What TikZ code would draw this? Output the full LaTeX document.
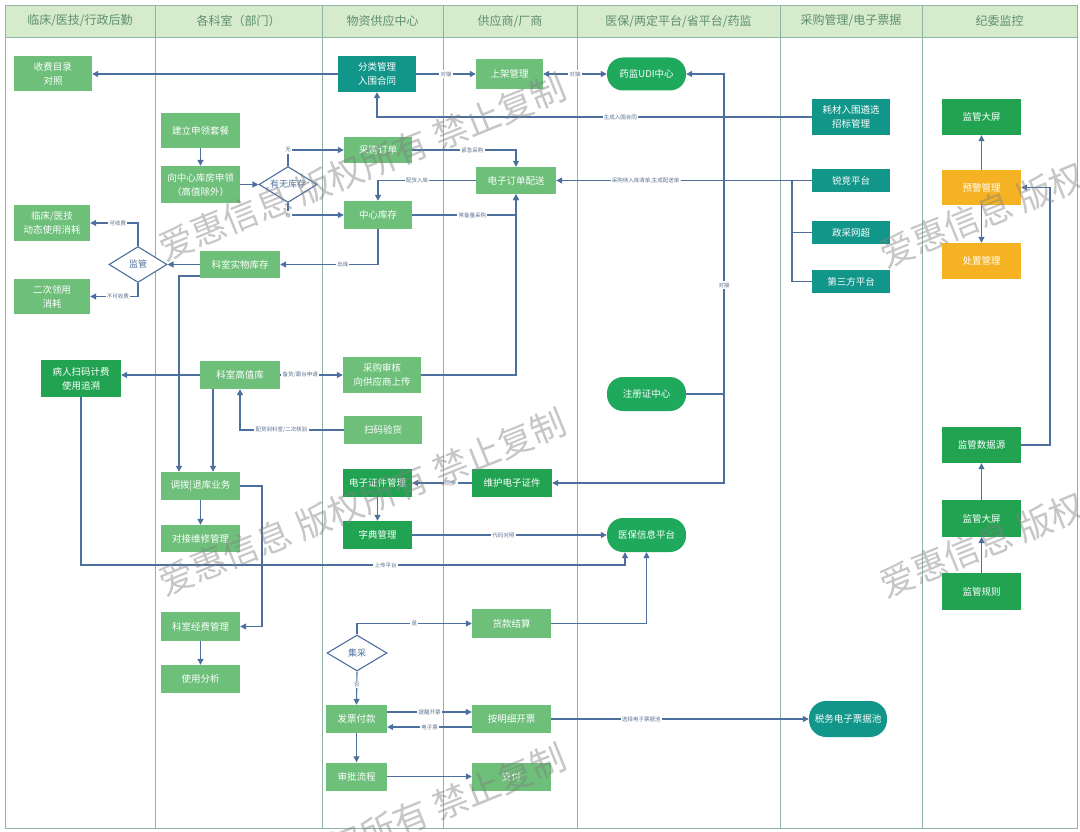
\documentclass[tikz,border=0pt]{standalone}
\usepackage{fontspec}
\setmainfont{Noto Sans CJK SC}
\usetikzlibrary{arrows.meta,shapes.geometric}
\definecolor{lg}{HTML}{6DBF7A}
\definecolor{dg}{HTML}{22A352}
\definecolor{sg}{HTML}{1FA95D}
\definecolor{tl}{HTML}{12968A}
\definecolor{org}{HTML}{F5B324}
\definecolor{arrc}{HTML}{4D6F9E}
\definecolor{lblc}{HTML}{5A7090}
\definecolor{hdrfill}{HTML}{D6EBCB}
\definecolor{hdrtext}{HTML}{5E8F6E}
\definecolor{lanec}{HTML}{8FB3A8}
\begin{document}
\begin{tikzpicture}[x=1pt,y=-1pt,
  bx/.style={rectangle,fill=lg,text=white,align=center,inner sep=0pt,
    font=\fontsize{9.5}{14}\selectfont,minimum width=79pt,minimum height=28pt},
  dgb/.style={bx,fill=dg},
  tlb/.style={bx,fill=tl},
  orb/.style={bx,fill=org},
  stad/.style={bx,fill=sg,rounded corners=16pt},
  dia/.style={diamond,draw=arrc,line width=1.1pt,fill=white,text=arrc,inner sep=0pt,
    aspect=1.6,font=\fontsize{9}{10}\selectfont},
  arr/.style={draw=arrc,line width=1.1pt,-{Triangle[length=6pt,width=6pt]}},
  arrb/.style={draw=arrc,line width=1.1pt,{Triangle[length=6pt,width=6pt]}-{Triangle[length=6pt,width=6pt]}},
  ln/.style={draw=arrc,line width=1.1pt},
  lbl/.style={fill=white,text=lblc,inner sep=1.2pt,font=\fontsize{5.5}{6}\selectfont},
  hdr/.style={text=hdrtext,font=\fontsize{12}{14}\selectfont},
  lane/.style={draw=lanec,line width=0.8pt},
  wm/.style={text=gray,text opacity=0.45,rotate=22,font=\fontsize{35}{40}\selectfont}
]
\useasboundingbox (0,0) rectangle (1080,832);
% lanes
\fill[hdrfill] (5,5) rectangle (1077,37);
\draw[lane] (5,5) rectangle (1077,828);
\draw[lane] (5,37) -- (1077,37);
\foreach \xx in {155,322,443,577,780,922} {\draw[lane] (\xx,5) -- (\xx,828);}
\node[hdr] (h1) at (80,21) {临床/医技/行政后勤};
\node[hdr] (h2) at (238.5,21) {各科室（部门）};
\node[hdr] (h3) at (382.5,21) {物资供应中心};
\node[hdr] (h4) at (510,21) {供应商/厂商};
\node[hdr] (h5) at (678.5,21) {医保/两定平台/省平台/药监};
\node[hdr] (h6) at (851,21) {采购管理/电子票据};
\node[hdr] (h7) at (999.5,21) {纪委监控};

% nodes
\node[bx,minimum width=78pt,minimum height=35pt] (shoufei) at (53,74) {收费目录\\对照};
\node[tlb,minimum width=78pt,minimum height=36pt] (fenlei) at (377,74) {分类管理\\入围合同};
\node[bx,minimum width=67pt,minimum height=30pt] (shangjia) at (509.5,74) {上架管理};
\node[stad,minimum height=33pt] (udi) at (646.5,74) {药监UDI中心};
\node[tlb,minimum width=78pt,minimum height=36pt] (haocai) at (851,117) {耗材入围遴选\\招标管理};
\node[dgb,minimum height=36pt] (jgdp1) at (981.5,117) {监管大屏};
\node[bx,minimum height=35pt] (jianli) at (200.5,130.5) {建立申领套餐};
\node[bx,minimum width=68pt,minimum height=26pt] (caigou) at (378,150) {采购订单};
\node[bx,minimum height=37pt] (xiang) at (200.5,184.5) {向中心库房申领\\（高值除外）};
\node[dia,minimum width=58pt,minimum height=36pt] (youwu) at (288,184.5) {有无库存};
\node[bx,minimum width=80pt,minimum height=27pt] (dingdan) at (516,180.5) {电子订单配送};
\node[tlb,minimum width=78pt,minimum height=23pt] (ruijing) at (851,180.5) {锐竞平台};
\node[orb,minimum height=35pt] (yujing) at (981.5,187.5) {预警管理};
\node[bx,minimum width=68pt,minimum height=28pt] (zhongxin) at (378,215) {中心库存};
\node[bx,minimum width=76pt,minimum height=36pt] (linchuang) at (52,223) {临床/医技\\动态使用消耗};
\node[tlb,minimum width=78pt,minimum height=23pt] (zhengcai) at (851,232.5) {政采网超};
\node[orb,minimum height=36pt] (chuzhi) at (981.5,261) {处置管理};
\node[dia,minimum width=58pt,minimum height=36pt] (jianguan) at (138,264.5) {监管};
\node[bx,minimum width=80pt,minimum height=27pt] (shiwu) at (240,264.5) {科室实物库存};
\node[tlb,minimum width=78pt,minimum height=23pt] (disanfang) at (851,281.5) {第三方平台};
\node[bx,minimum width=76pt,minimum height=35pt] (erci) at (52,296.5) {二次领用\\消耗};
\node[dgb,minimum width=80pt,minimum height=37pt] (bingren) at (81,378.5) {病人扫码计费\\使用追溯};
\node[bx,minimum width=80pt,minimum height=28pt] (gaozhi) at (240,375) {科室高值库};
\node[bx,minimum width=78pt,minimum height=36pt] (shenhe) at (382,375) {采购审核\\向供应商上传};
\node[stad,minimum height=34pt] (zhuce) at (646.5,394) {注册证中心};
\node[bx,minimum width=78pt,minimum height=28pt] (yanhuo) at (383,430) {扫码验货};
\node[dgb,minimum height=36pt] (sjy) at (981.5,445) {监管数据源};
\node[bx,minimum height=28pt] (diaobo) at (200.5,486) {调拨|退库业务};
\node[dgb,minimum width=69pt,minimum height=28pt] (zjgl) at (377.5,483) {电子证件管理};
\node[dgb,minimum width=80pt,minimum height=28pt] (whzj) at (512,483) {维护电子证件};
\node[dgb,minimum height=37pt] (jgdp2) at (981.5,518.5) {监管大屏};
\node[bx,minimum height=27pt] (weixiu) at (200.5,538.5) {对接维修管理};
\node[dgb,minimum width=69pt,minimum height=28pt] (zidian) at (377.5,535) {字典管理};
\node[stad,minimum height=34pt] (yibao) at (646.5,535) {医保信息平台};
\node[dgb,minimum height=37pt] (jggz) at (981.5,591.5) {监管规则};
\node[bx,minimum height=29pt] (huokuan) at (511.5,623.5) {货款结算};
\node[bx,minimum height=29pt] (jingfei) at (200.5,626.5) {科室经费管理};
\node[dia,minimum width=60pt,minimum height=36pt] (jicai) at (357,653) {集采};
\node[bx,minimum height=28pt] (fenxi) at (200.5,679) {使用分析};
\node[bx,minimum width=61pt,minimum height=28pt] (fapiao) at (356.5,719) {发票付款};
\node[bx,minimum height=28pt] (anmingxi) at (511.5,719) {按明细开票};
\node[stad,fill=tl,minimum width=78pt,minimum height=36pt,rounded corners=17pt] (shuiwu) at (848,719) {税务电子票据池};
\node[bx,minimum width=61pt,minimum height=28pt] (shenpi) at (356.5,776.5) {审批流程};
\node[bx,minimum height=28pt] (zhifu) at (511.5,776.5) {支付};

% helper coordinates
\coordinate (c179) at (179,0);
\coordinate (c213) at (213,0);
\coordinate (c262) at (262,0);
\coordinate (c625) at (625,0);
\coordinate (c724) at (724,0);
\coordinate (c792) at (792,0);
\coordinate (c1050) at (1050,0);
\coordinate (upl) at (625,565);

% connectors
\draw[arr] (fenlei.west) -- (shoufei.east |- fenlei.west);
\draw[arr] (fenlei.east) -- node[lbl]{对接} (shangjia.west);
\draw[arrb] (shangjia.east) -- node[lbl]{对接} (udi.west);
\draw[arr] (haocai.west) -| node[lbl,pos=0.22]{生成入围合同} (fenlei.south);
\draw[arr] (jianli.south) -- (xiang.north);
\draw[arr] (xiang.east) -- (youwu.west);
\draw[arr] (youwu.north) |- node[lbl,pos=0.5]{无} (caigou.west);
\draw[arr] (youwu.south) |- node[lbl,pos=0.5]{有} (zhongxin.west);
\draw[arr] (caigou.east) -| node[lbl,pos=0.29]{紧急采购} (dingdan.north);
\draw[arr] (dingdan.west) -| node[lbl,pos=0.3]{配货入库} (zhongxin.north);
\draw[arr] (zhongxin.east) -| node[lbl,pos=0.29]{常备量采购} (dingdan.south);
\draw[arr] (shenhe.east) -| (dingdan.south);
\draw[arr] (ruijing.west) -- node[lbl,pos=0.65]{采购待入库清单,生成配送单} (dingdan.east);
\draw[ln] (c792 |- ruijing.west) |- (disanfang.west);
\draw[ln] (c792 |- zhengcai.west) -- (zhengcai.west);
\draw[arr] (zhuce.east) -- (zhuce.east -| c724) |- node[lbl,pos=0.17]{对接} (udi.east);
\draw[arr] (zhuce.east -| c724) |- (whzj.east);
\draw[arr] (whzj.west) -- node[lbl,pos=0.35]{同步} (zjgl.east);
\draw[arr] (zjgl.south) -- (zidian.north);
\draw[arr] (zidian.east) -- node[lbl,pos=0.47]{代码对照} (yibao.west);
\draw[arr] (bingren.south) |- node[lbl,pos=0.78]{上传平台} (upl) -- (c625 |- yibao.south);
\draw[arr] (huokuan.east) -| (yibao.south);
\draw[arr] (jicai.north) |- node[lbl,pos=0.75]{是} (huokuan.west);
\draw[arr] (jicai.south) -- node[lbl,pos=0.4]{否} (fapiao.north);
\draw[arr] ([yshift=7pt]fapiao.east) -- node[lbl]{提醒开票} ([yshift=7pt]anmingxi.west);
\draw[arr] ([yshift=-8pt]anmingxi.west) -- node[lbl]{电子票} ([yshift=-8pt]fapiao.east);
\draw[arr] (anmingxi.east) -- node[lbl,pos=0.35]{选择电子票据池} (shuiwu.west);
\draw[arr] (fapiao.south) -- (shenpi.north);
\draw[arr] (shenpi.east) -- (zhifu.west);
\draw[arr] (shiwu.west) -- (jianguan.east);
\draw[arr] (jianguan.north) |- node[lbl,pos=0.71]{可收费} (linchuang.east);
\draw[arr] (jianguan.south) |- node[lbl,pos=0.71]{不可收费} (erci.east);
\draw[arr] (zhongxin.south) |- node[lbl,pos=0.68]{出库} (shiwu.east);
\draw[arr] ([yshift=-11.5pt]shiwu.west) -| (c179 |- diaobo.north);
\draw[arr] (c213 |- gaozhi.south) -- (c213 |- diaobo.north);
\draw[arr] (gaozhi.west) -- (bingren.east |- gaozhi.west);
\draw[arr] (gaozhi.east) -- node[lbl,pos=0.32]{备货/跟台申请} (shenhe.west |- gaozhi.east);
\draw[arr] (yanhuo.west) -| node[lbl,pos=0.3]{配货到科室/二次核验} (gaozhi.south);
\draw[arr] (diaobo.south) -- (weixiu.north);
\draw[arr] (diaobo.east) -| (c262 |- jingfei.east) -- (jingfei.east);
\draw[arr] (jingfei.south) -- (fenxi.north);
\draw[arr] (yujing.north) -- (jgdp1.south);
\draw[arr] (yujing.south) -- (chuzhi.north);
\draw[arr] (sjy.east) -| (c1050 |- yujing.east) -- (yujing.east);
\draw[arr] (jgdp2.north) -- (sjy.south);
\draw[arr] (jggz.north) -- (jgdp2.south);

% watermark
\begin{scope}
\clip (0,0) rectangle (1080,832);
\node[wm] (wm1) at (362,167) {爱惠信息 版权所有 禁止复制};
\node[wm] (wm2) at (362,502) {爱惠信息 版权所有 禁止复制};
\node[wm] (wm3) at (1083,174) {爱惠信息 版权所有 禁止复制};
\node[wm] (wm4) at (1083,504) {爱惠信息 版权所有 禁止复制};
\node[wm] (wm5) at (362,837) {爱惠信息 版权所有 禁止复制};
\end{scope}
\end{tikzpicture}
\end{document}
